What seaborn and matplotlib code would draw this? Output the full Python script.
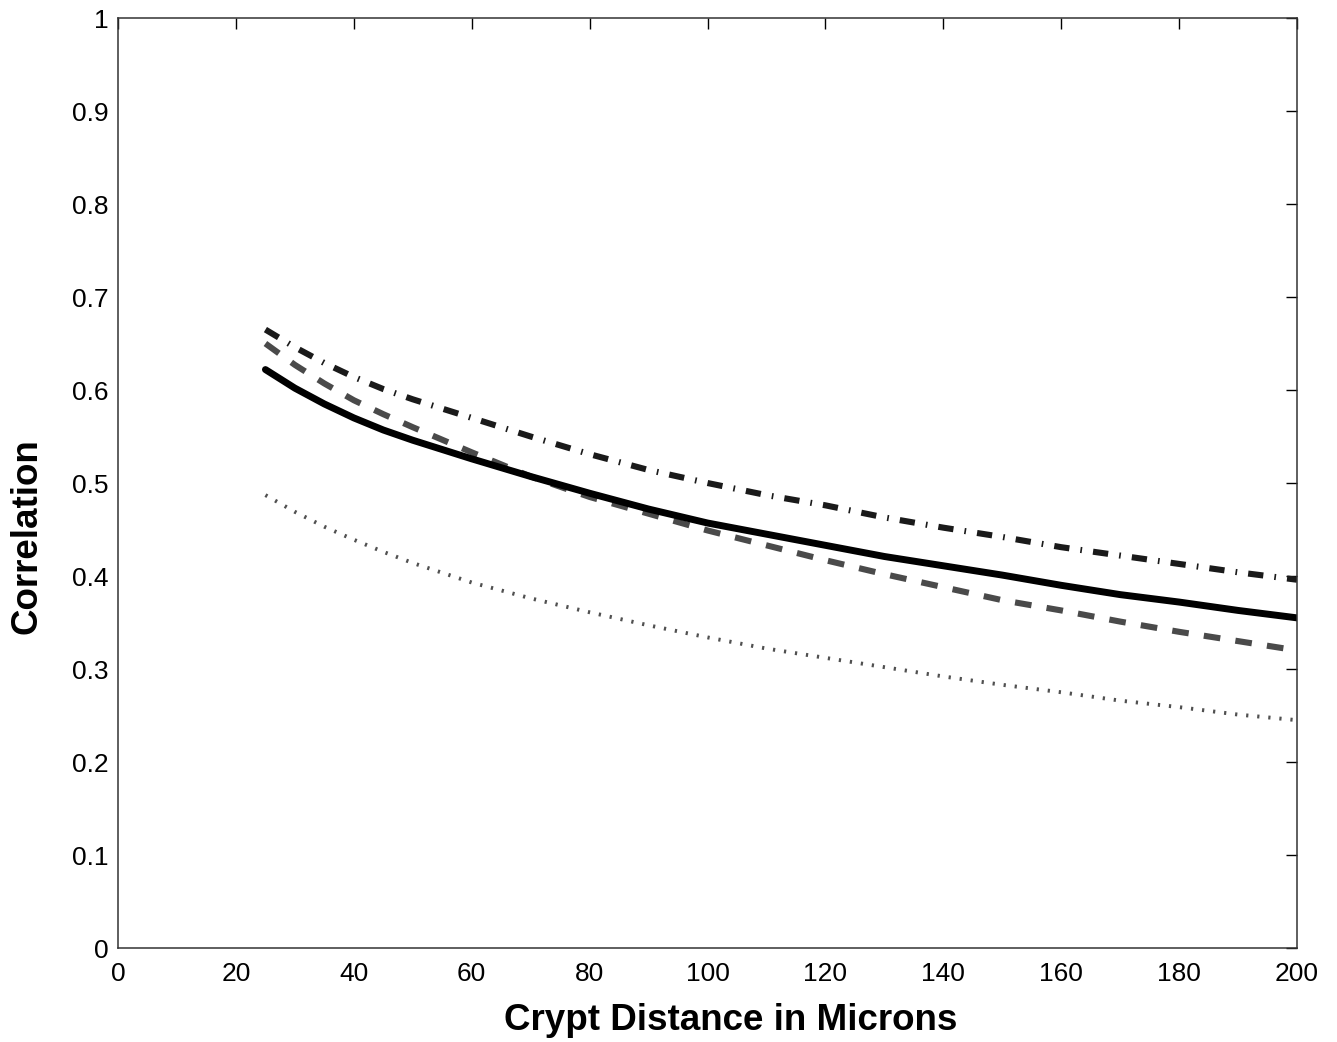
import matplotlib
matplotlib.use("Agg")
import matplotlib.pyplot as plt
import seaborn as sns
import pandas as pd

distance = [25, 30, 35, 40, 45, 50, 60, 70, 80, 90, 100, 110, 120, 130, 140, 150, 160, 170, 180, 190, 200]
solid_corr = [0.622, 0.602, 0.585, 0.570, 0.557, 0.546, 0.526, 0.507, 0.489, 0.472, 0.457, 0.445, 0.433,
              0.421, 0.411, 0.401, 0.390, 0.380, 0.372, 0.363, 0.355]
dashdot_corr = [0.665, 0.646, 0.629, 0.614, 0.601, 0.590, 0.570, 0.550, 0.531, 0.514, 0.500, 0.487, 0.476,
                0.463, 0.452, 0.442, 0.431, 0.422, 0.413, 0.404, 0.396]
dashed_corr = [0.650, 0.627, 0.607, 0.589, 0.574, 0.560, 0.533, 0.507, 0.485, 0.467, 0.449, 0.433, 0.417,
               0.402, 0.388, 0.374, 0.363, 0.351, 0.340, 0.330, 0.320]
dotted_corr = [0.487, 0.469, 0.453, 0.439, 0.426, 0.414, 0.393, 0.376, 0.361, 0.347, 0.334, 0.322, 0.312,
               0.302, 0.292, 0.283, 0.275, 0.266, 0.259, 0.251, 0.245]

x_ticks = [0, 20, 40, 60, 80, 100, 120, 140, 160, 180, 200]
y_ticks = [0, 0.1, 0.2, 0.3, 0.4, 0.5, 0.6, 0.7, 0.8, 0.9, 1]
y_tick_labels = ["0", "0.1", "0.2", "0.3", "0.4", "0.5", "0.6", "0.7", "0.8", "0.9", "1"]

sns.set_style("white")
plt.rcParams["font.family"] = ["Liberation Sans", "DejaVu Sans"]
plt.rcParams["lines.scale_dashes"] = False
plt.rcParams["text.color"] = "black"
plt.rcParams["axes.labelcolor"] = "black"
plt.rcParams["xtick.color"] = "black"
plt.rcParams["ytick.color"] = "black"

fig = plt.figure(figsize=(13.37, 10.42), dpi=100)
ax = fig.add_axes([0.0883, 0.0902, 0.8818, 0.8925])

df = pd.DataFrame({"x": distance, "solid": solid_corr, "dashdot": dashdot_corr,
                   "dashed": dashed_corr, "dotted": dotted_corr})

sns.lineplot(data=df, x="x", y="dotted", ax=ax, color="#505050", linewidth=2.8)
ax.lines[-1].set_dashes((1.6, 6.4))
ax.lines[-1].set_dash_capstyle("butt")
sns.lineplot(data=df, x="x", y="dashed", ax=ax, color="#4a4a4a", linewidth=4.4)
ax.lines[-1].set_dashes((12, 11))
ax.lines[-1].set_dash_capstyle("butt")
sns.lineplot(data=df, x="x", y="solid", ax=ax, color="#000000", linewidth=5.0)
sns.lineplot(data=df, x="x", y="dashdot", ax=ax, color="#1a1a1a", linewidth=4.4)
ax.lines[-1].set_dashes((11, 8, 1.2, 8))
ax.lines[-1].set_dash_capstyle("butt")

ax.set_xlim(0, 200)
ax.set_ylim(0, 1)
ax.set_xticks(x_ticks)
ax.set_yticks(y_ticks)
ax.set_yticklabels(y_tick_labels)
ax.tick_params(direction="in", top=True, right=True, length=8, width=1.0,
               labelsize=19)
ax.tick_params(axis="x", pad=10)
ax.tick_params(axis="y", pad=7)
for t in ax.xaxis.get_ticklines() + ax.yaxis.get_ticklines():
    t.set_color("#333333")
for s in ax.spines.values():
    s.set_visible(True)
    s.set_color("#333333")
    s.set_linewidth(1.1)

ax.set_xlabel("Crypt Distance in Microns", fontsize=26.5, fontweight="bold")
ax.set_ylabel("Correlation", fontsize=26.5, fontweight="bold")
ax.xaxis.set_label_coords(0.5195, -0.0595, transform=ax.transAxes)
ax.xaxis.label.set_va("top")
ax.yaxis.label.set_va("center")
ax.yaxis.label.set_ha("center")
ax.yaxis.set_label_coords(-0.077, 0.443, transform=ax.transAxes)

fig.savefig("out.png", dpi=100)
